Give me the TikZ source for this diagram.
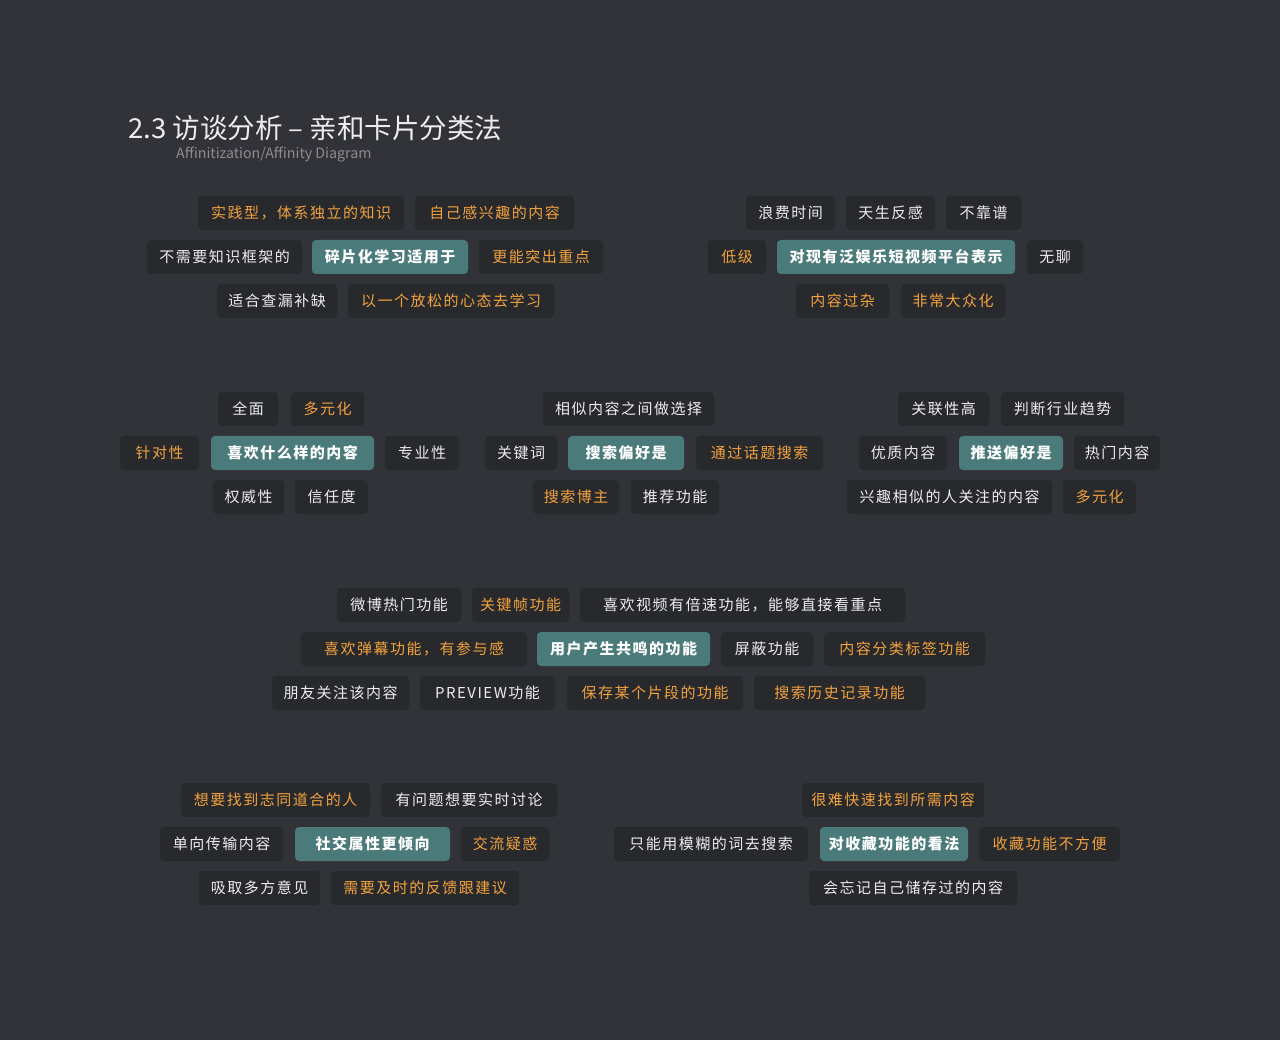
\documentclass[tikz,border=0pt]{standalone}
\usepackage{fontspec}
\setmainfont{Noto Sans CJK SC}
\newfontfamily\cardfont[LetterSpace=10]{Noto Sans CJK SC}
\definecolor{canvas}{HTML}{323338}
\definecolor{cardbg}{HTML}{28292D}
\definecolor{topicbg}{HTML}{4A7A79}
\definecolor{cardtext}{HTML}{EDEDED}
\definecolor{accent}{HTML}{F2A23E}
\definecolor{subtext}{HTML}{8C8C90}
\tikzset{
  card/.style={rounded corners=4pt, fill=cardbg, minimum height=34pt, inner sep=0pt,
    text=cardtext, font=\cardfont\fontsize{15}{15}\selectfont},
  plaincard/.style={card},
  hotcard/.style={card, text=accent},
  topiccard/.style={card, fill=topicbg, text=white, font=\cardfont\bfseries\fontsize{15}{15}\selectfont}
}

\begin{document}
\begin{tikzpicture}[x=1pt, y=-1pt]
  \fill[canvas] (0,0) rectangle (1280,1040);
  \useasboundingbox (0,0) rectangle (1280,1040);

  \node[anchor=base west, inner sep=0pt, text=cardtext, font=\fontsize{27.5}{27.5}\selectfont] (title) at (128,139) {2.3 访谈分析 – 亲和卡片分类法};
  \node[anchor=base west, inner sep=0pt, text=subtext, font=\fontsize{14.2}{14.2}\selectfont] (subtitle) at (176,159) {Affinitization/Affinity Diagram};

  % learning
  \node[hotcard, minimum width=206pt] (a1) at (301,213) {实践型，体系独立的知识};
  \node[hotcard, minimum width=159pt] (a2) at (494.5,213) {自己感兴趣的内容};
  \node[plaincard, minimum width=155pt] (a3) at (224.5,257) {不需要知识框架的};
  \node[topiccard, minimum width=156pt] (a4) at (390,257) {碎片化学习适用于};
  \node[hotcard, minimum width=124pt] (a5) at (541,257) {更能突出重点};
  \node[plaincard, minimum width=120pt] (a6) at (277,301) {适合查漏补缺};
  \node[hotcard, minimum width=206pt] (a7) at (451,301) {以一个放松的心态去学习};

  % platforms
  \node[plaincard, minimum width=89pt] (b1) at (790.5,213) {浪费时间};
  \node[plaincard, minimum width=89pt] (b2) at (890.5,213) {天生反感};
  \node[plaincard, minimum width=75pt] (b3) at (983.5,213) {不靠谱};
  \node[hotcard, minimum width=58pt] (b4) at (737,257) {低级};
  \node[topiccard, minimum width=238pt] (b5) at (896,257) {对现有泛娱乐短视频平台表示};
  \node[plaincard, minimum width=56pt] (b6) at (1055,257) {无聊};
  \node[hotcard, minimum width=93pt] (b7) at (842.5,301) {内容过杂};
  \node[hotcard, minimum width=104pt] (b8) at (953,301) {非常大众化};

  % content
  \node[plaincard, minimum width=60pt] (c1) at (248,409) {全面};
  \node[hotcard, minimum width=73pt] (c2) at (327.5,409) {多元化};
  \node[hotcard, minimum width=79pt] (c3) at (159.5,453) {针对性};
  \node[topiccard, minimum width=163pt] (c4) at (292.5,453) {喜欢什么样的内容};
  \node[plaincard, minimum width=74pt] (c5) at (422,453) {专业性};
  \node[plaincard, minimum width=71pt] (c6) at (248.5,497) {权威性};
  \node[plaincard, minimum width=73pt] (c7) at (331.5,497) {信任度};

  % search
  \node[plaincard, minimum width=171pt] (d1) at (628.5,409) {相似内容之间做选择};
  \node[plaincard, minimum width=72pt] (d2) at (521,453) {关键词};
  \node[topiccard, minimum width=116pt] (d3) at (626,453) {搜索偏好是};
  \node[hotcard, minimum width=127pt] (d4) at (759.5,453) {通过话题搜索};
  \node[hotcard, minimum width=86pt] (d5) at (576,497) {搜索博主};
  \node[plaincard, minimum width=88pt] (d6) at (675,497) {推荐功能};

  % push
  \node[plaincard, minimum width=91pt] (e1) at (943.5,409) {关联性高};
  \node[plaincard, minimum width=123pt] (e2) at (1062.5,409) {判断行业趋势};
  \node[plaincard, minimum width=88pt] (e3) at (903,453) {优质内容};
  \node[topiccard, minimum width=104pt] (e4) at (1011,453) {推送偏好是};
  \node[plaincard, minimum width=86pt] (e5) at (1117,453) {热门内容};
  \node[plaincard, minimum width=205pt] (e6) at (949.5,497) {兴趣相似的人关注的内容};
  \node[hotcard, minimum width=73pt] (e7) at (1099.5,497) {多元化};

  % features
  \node[plaincard, minimum width=124pt] (f1) at (399,605) {微博热门功能};
  \node[hotcard, minimum width=97pt] (f2) at (520.5,605) {关键帧功能};
  \node[plaincard, minimum width=325pt] (f3) at (742.5,605) {喜欢视频有倍速功能，能够直接看重点};
  \node[hotcard, minimum width=226pt] (f4) at (414,649) {喜欢弹幕功能，有参与感};
  \node[topiccard, minimum width=173pt] (f5) at (623.5,649) {用户产生共鸣的功能};
  \node[plaincard, minimum width=92pt] (f6) at (767,649) {屏蔽功能};
  \node[hotcard, minimum width=161pt] (f7) at (904.5,649) {内容分类标签功能};
  \node[plaincard, minimum width=137pt] (f8) at (340.5,693) {朋友关注该内容};
  \node[plaincard, minimum width=135pt] (f9) at (487.5,693) {PREVIEW功能};
  \node[hotcard, minimum width=176pt] (f10) at (655,693) {保存某个片段的功能};
  \node[hotcard, minimum width=171pt] (f11) at (839.5,693) {搜索历史记录功能};

  % social
  \node[hotcard, minimum width=189pt] (g1) at (275.5,800) {想要找到志同道合的人};
  \node[plaincard, minimum width=176pt] (g2) at (469,800) {有问题想要实时讨论};
  \node[plaincard, minimum width=123pt] (g3) at (221.5,844) {单向传输内容};
  \node[topiccard, minimum width=155pt] (g4) at (372.5,844) {社交属性更倾向};
  \node[hotcard, minimum width=88pt] (g5) at (505,844) {交流疑惑};
  \node[plaincard, minimum width=121pt] (g6) at (259.5,888) {吸取多方意见};
  \node[hotcard, minimum width=188pt] (g7) at (425,888) {需要及时的反馈跟建议};

  % collect
  \node[hotcard, minimum width=182pt] (h1) at (893,800) {很难快速找到所需内容};
  \node[plaincard, minimum width=194pt] (h2) at (711,844) {只能用模糊的词去搜索};
  \node[topiccard, minimum width=148pt] (h3) at (894,844) {对收藏功能的看法};
  \node[hotcard, minimum width=141pt] (h4) at (1049.5,844) {收藏功能不方便};
  \node[plaincard, minimum width=208pt] (h5) at (913,888) {会忘记自己储存过的内容};
\end{tikzpicture}
\end{document}
